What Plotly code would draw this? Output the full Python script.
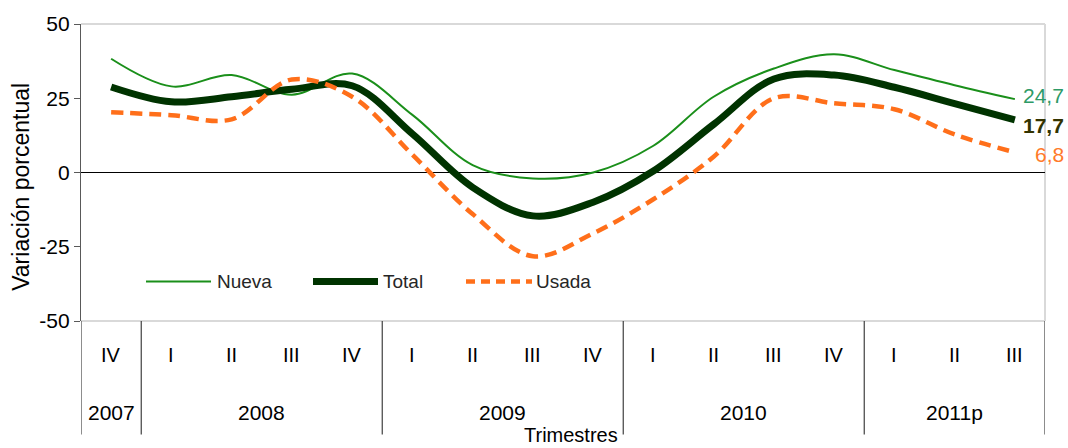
import plotly.graph_objects as go

quarters = ["IV", "I", "II", "III", "IV", "I", "II", "III", "IV",
            "I", "II", "III", "IV", "I", "II", "III"]
years = ["2007", "2008", "2009", "2010", "2011p"]
year_counts = [1, 4, 4, 4, 3]

nueva = [38.3, 29.0, 32.8, 26.2, 33.3, 19.4, 2.5, -2.0, 0.0, 9.0, 25.5, 35.0, 39.8, 34.5, 29.4, 24.7]
total = [28.8, 23.8, 25.5, 28.0, 29.2, 13.0, -5.0, -14.6, -10.0, 0.5, 16.2, 31.5, 32.8, 28.7, 23.2, 17.7]
usada = [20.3, 19.3, 17.9, 31.3, 25.5, 6.0, -14.0, -28.2, -20.5, -9.0, 5.3, 25.0, 23.3, 21.3, 12.8, 6.8]

series_names = ["Nueva", "Total", "Usada"]
end_labels = ["24,7", "17,7", "6,8"]

FONT = "Liberation Sans, Arial, sans-serif"
C_NUEVA = "#1a8f1a"
C_TOTAL = "#003300"
C_USADA = "#ff6f1a"

x = list(range(len(quarters)))
fig = go.Figure()
fig.add_trace(go.Scatter(x=x, y=nueva, mode="lines", name="Nueva",
                         line=dict(color=C_NUEVA, width=2, shape="spline", smoothing=1.0)))
fig.add_trace(go.Scatter(x=x, y=total, mode="lines", name="Total",
                         line=dict(color=C_TOTAL, width=7, shape="spline", smoothing=1.0)))
fig.add_trace(go.Scatter(x=x, y=usada, mode="lines", name="Usada",
                         line=dict(color=C_USADA, width=4.5, dash="12px,7px", shape="spline", smoothing=1.0)))

H = 301.0
def py(p):
    return (321 - p) / H
def px(p):
    return (p - 81) / 964.0

annotations = []
shapes = []

# quarter labels
for i, q in enumerate(quarters):
    annotations.append(dict(x=i, y=py(355), xref="x", yref="paper", text=q, showarrow=False,
                            font=dict(family=FONT, size=20, color="#000000"), yanchor="middle"))
# year labels and separators
start = 0
bounds = [-0.5]
for yname, cnt in zip(years, year_counts):
    center = start + (cnt - 1) / 2.0
    annotations.append(dict(x=center, y=py(414), xref="x", yref="paper", text=yname, showarrow=False,
                            font=dict(family=FONT, size=21, color="#000000"), yanchor="middle"))
    start += cnt
    bounds.append(start - 0.5)
for b in bounds:
    shapes.append(dict(type="line", xref="x", yref="paper", x0=b, x1=b, y0=0, y1=py(436),
                       line=dict(color="#404040", width=1.2)))

# border of plot area (light gray)
shapes.append(dict(type="line", xref="paper", yref="paper", x0=0, x1=1, y0=1, y1=1,
                   line=dict(color="#d9d9d9", width=2), layer="below"))
shapes.append(dict(type="line", xref="paper", yref="paper", x0=1, x1=1, y0=0, y1=1,
                   line=dict(color="#d9d9d9", width=2), layer="below"))
shapes.append(dict(type="line", xref="paper", yref="paper", x0=0, x1=1, y0=0, y1=0,
                   line=dict(color="#d9d9d9", width=2), layer="below"))

# custom legend
leg_y = py(281)
legend_items = [
    ("Nueva", C_NUEVA, 2, "solid", 146, 211, 215),
    ("Total", C_TOTAL, 7, "solid", 313, 378, 381),
    ("Usada", C_USADA, 4.5, "dash", 466, 532, 534),
]
for name, col, w, dash, x0, x1, tx in legend_items:
    shapes.append(dict(type="line", xref="paper", yref="paper", x0=px(x0), x1=px(x1), y0=leg_y, y1=leg_y,
                       line=dict(color=col, width=w, dash="9px,6px" if dash == "dash" else "solid")))
    annotations.append(dict(x=px(tx), y=leg_y, xref="paper", yref="paper", text=name, showarrow=False,
                            xanchor="left", yanchor="middle",
                            font=dict(family=FONT, size=19, color="#262626")))

# end labels
end_cfg = [(92, "#2e9a66", False), (123, "#333300", True), (152, "#ff7a2a", False)]
for lab, (yy, col, bold) in zip(end_labels, end_cfg):
    annotations.append(dict(x=px(1066), y=py(yy), xref="paper", yref="paper",
                            text=f"<b>{lab}</b>" if bold else lab, showarrow=False,
                            xanchor="right", yanchor="middle",
                            font=dict(family=FONT, size=21, color=col)))

# axis titles
annotations.append(dict(x=px(21), y=py(185), xref="paper", yref="paper", text="Variación porcentual",
                        textangle=-90, showarrow=False, xanchor="center", yanchor="middle",
                        font=dict(family=FONT, size=23, color="#000000")))
annotations.append(dict(x=px(571), y=py(437), xref="paper", yref="paper", text="Trimestres",
                        showarrow=False, xanchor="center", yanchor="middle",
                        font=dict(family=FONT, size=20, color="#000000")))

fig.update_layout(
    width=1068, height=448,
    margin=dict(l=81, r=23, t=20, b=127),
    paper_bgcolor="white", plot_bgcolor="white",
    showlegend=False,
    xaxis=dict(range=[-0.5, len(quarters) - 0.5], showticklabels=False, showgrid=False,
               zeroline=False, showline=False, ticks=""),
    yaxis=dict(range=[-50, 50], tickvals=[-50, -25, 0, 25, 50], ticktext=["-50", "-25", "0", "25", "50"],
               showgrid=False, zeroline=True, zerolinecolor="#000000", zerolinewidth=1,
               showline=True, linecolor="#595959", linewidth=1.2, ticks="outside", ticklen=6,
               tickcolor="#595959", tickfont=dict(family=FONT, size=21, color="#000000")),
    annotations=annotations,
    shapes=shapes,
)

fig.write_html("out.html", config={"displayModeBar": False},
               post_script="document.body.style.margin='0';document.body.style.padding='0';document.body.style.overflow='hidden';")
